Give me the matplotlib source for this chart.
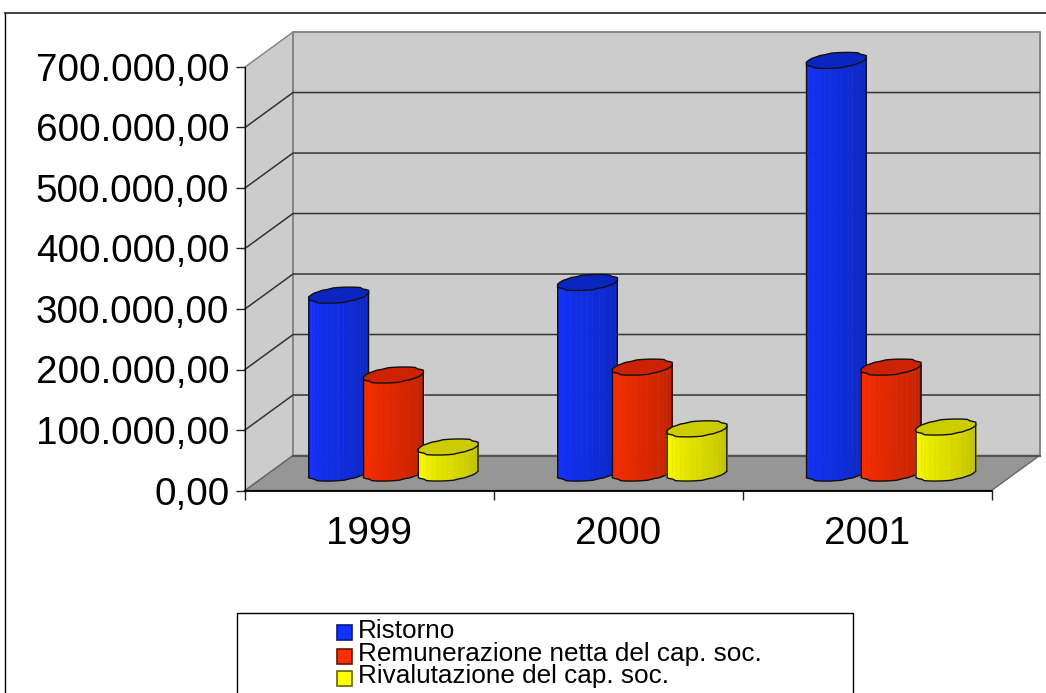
import numpy as np
import matplotlib
matplotlib.use('Agg')
import matplotlib.pyplot as plt
from matplotlib.lines import Line2D
from matplotlib.patches import Rectangle

plt.rcParams['font.family'] = ['Liberation Sans', 'DejaVu Sans']

years = ['1999', '2000', '2001']
series_names = ['Ristorno', 'Remunerazione netta del cap. soc.', 'Rivalutazione del cap. soc.']
ristorno = [294000, 315000, 682000]
remunerazione = [162000, 175000, 175000]
rivalutazione = [43000, 73000, 76000]
y_ticks = [0, 100000, 200000, 300000, 400000, 500000, 600000, 700000]
y_labels = ['0,00', '100.000,00', '200.000,00', '300.000,00', '400.000,00', '500.000,00', '600.000,00', '700.000,00']

W, H = 1046, 693
# depth of the fake 3d box, in data units
DX = 0.193
DY = 57800
fig = plt.figure(figsize=(W / 100, H / 100), dpi=100)
ax = fig.add_axes([245 / W, 1 - 490.5 / H, 746.5 / W, 423.5 / H])
ax.set_xlim(0, 3)
ax.set_ylim(0, 700000)
ax.patch.set_visible(False)
for s in ['top', 'right']:
    ax.spines[s].set_visible(False)
ax.spines['left'].set_color('black')
ax.spines['left'].set_zorder(50)
ax.spines['bottom'].set_color('black')
ax.spines['bottom'].set_linewidth(1.3)
ax.spines['bottom'].set_zorder(50)

ax.set_yticks(y_ticks)
ax.set_yticklabels(y_labels, fontsize=27.8)
ax.set_xticks([0, 1, 2, 3])
ax.set_xticklabels([])
ax.tick_params(axis='both', length=6.3, width=1, color='#222222')
ax.tick_params(axis='y', pad=5)
for i, yr in enumerate(years):
    ax.annotate(yr, (i + 0.5, 0), xytext=(0, -18), textcoords='offset points', ha='center', va='top', fontsize=27.8)

# walls and floor
top = y_ticks[-1]
ax.fill([0, DX, DX, 0], [0, DY, top + DY, top], fc='#cccccc', ec='#808080', lw=1, clip_on=False, zorder=1)
ax.fill([DX, 3 + DX, 3 + DX, DX], [DY, DY, top + DY, top + DY], fc='#cccccc', ec='#808080', lw=1.3, clip_on=False, zorder=1)
ax.fill([0, 3, 3 + DX, DX], [0, 0, DY, DY], fc='#969696', ec='#666666', lw=1, clip_on=False, zorder=1)
for v in y_ticks[1:-1]:
    ax.plot([0, DX, 3 + DX], [v, v + DY, v + DY], color='#333333', lw=1.1, clip_on=False, zorder=2)
ax.plot([DX, 3 + DX], [DY, DY], color='#555555', lw=1.6, clip_on=False, zorder=2)


def ellipse(xc, v, t):
    # depth is partly stepped, the original cylinders have a lumpy outline
    s = 0.6 * np.sin(t) + 0.4 * np.round(np.sin(t) * 3) / 3
    d = 0.5 + 0.23 * s
    return xc + 0.112 * np.cos(t) + d * DX, v + d * DY


def shade(col, f):
    # f=0 brightest side, f=1 dark side
    return tuple(c * (1 - 0.26 * f) for c in col)


def draw_bar(xc, v, col, topcol, zo):
    t0 = np.arctan2(0.23 * DX, 0.112)
    tt = np.linspace(t0, t0 + 2 * np.pi, 33)
    ts = tt[16:]
    for k in range(len(ts) - 1):
        x0, b0 = ellipse(xc, 0, ts[k])
        x1, b1 = ellipse(xc, 0, ts[k + 1])
        _, y1 = ellipse(xc, v, ts[k + 1])
        _, y0 = ellipse(xc, v, ts[k])
        c = shade(col, k / (len(ts) - 2))
        ax.fill([x0, x1, x1, x0], [b0, b1, y1, y0], fc=c, ec=c, lw=0.4, clip_on=False, zorder=zo)
        if k in (1, 7, 10, 12, 14):
            ax.plot([x1, x1], [b1, y1], color='white', alpha=0.14, lw=0.8, clip_on=False, zorder=zo)
    bx, by = ellipse(xc, 0, ts)
    tx, ty = ellipse(xc, v, ts)
    ax.plot(np.r_[tx[0], bx, tx[-1]], np.r_[ty[0], by, ty[-1]], color='#111111', lw=1, clip_on=False, zorder=zo + 0.1)
    ex, ey = ellipse(xc, v, tt)
    ax.fill(ex, ey, fc=topcol, ec='#111111', lw=1, clip_on=False, zorder=zo + 0.2)


colors = [(0.07, 0.2, 1.0), (1.0, 0.18, 0.0), (1.0, 1.0, 0.0)]
top_colors = ['#0a25c0', '#cc2200', '#cccc00']
series = [ristorno, remunerazione, rivalutazione]
for i in range(len(years)):
    for j, vals in enumerate(series):
        draw_bar(i + 0.5 + (j - 1) * 0.22, vals[i], colors[j], top_colors[j], 5 + i * 3 + j)

# outer frame, only top and left are visible
fig.add_artist(Line2D([5 / W, 5 / W], [0, 1 - 13 / H], color='black', lw=1))
fig.add_artist(Line2D([5 / W, 1], [1 - 13 / H, 1 - 13 / H], color='#333333', lw=1.3))

# legend box runs off the bottom of the picture
fig.add_artist(Line2D([237 / W, 237 / W, 853 / W, 853 / W], [0, 1 - 613 / H, 1 - 613 / H, 0], color='black', lw=1))
swatch_tops = [624.5, 648.5, 670.5]
baselines = [638, 661, 683]
swatch_edges = ['#0a1a80', '#661400', '#666600']
for name, col, ec, st, bl in zip(series_names, colors, swatch_edges, swatch_tops, baselines):
    fig.add_artist(Rectangle((336.5 / W, 1 - (st + 15) / H), 15 / W, 15 / H, transform=fig.transFigure,
                             fc=col, ec=ec, lw=1.2))
    fig.text(358 / W, 1 - bl / H, name, fontsize=18.8, ha='left', va='baseline')

fig.savefig('out.png', dpi=100)
